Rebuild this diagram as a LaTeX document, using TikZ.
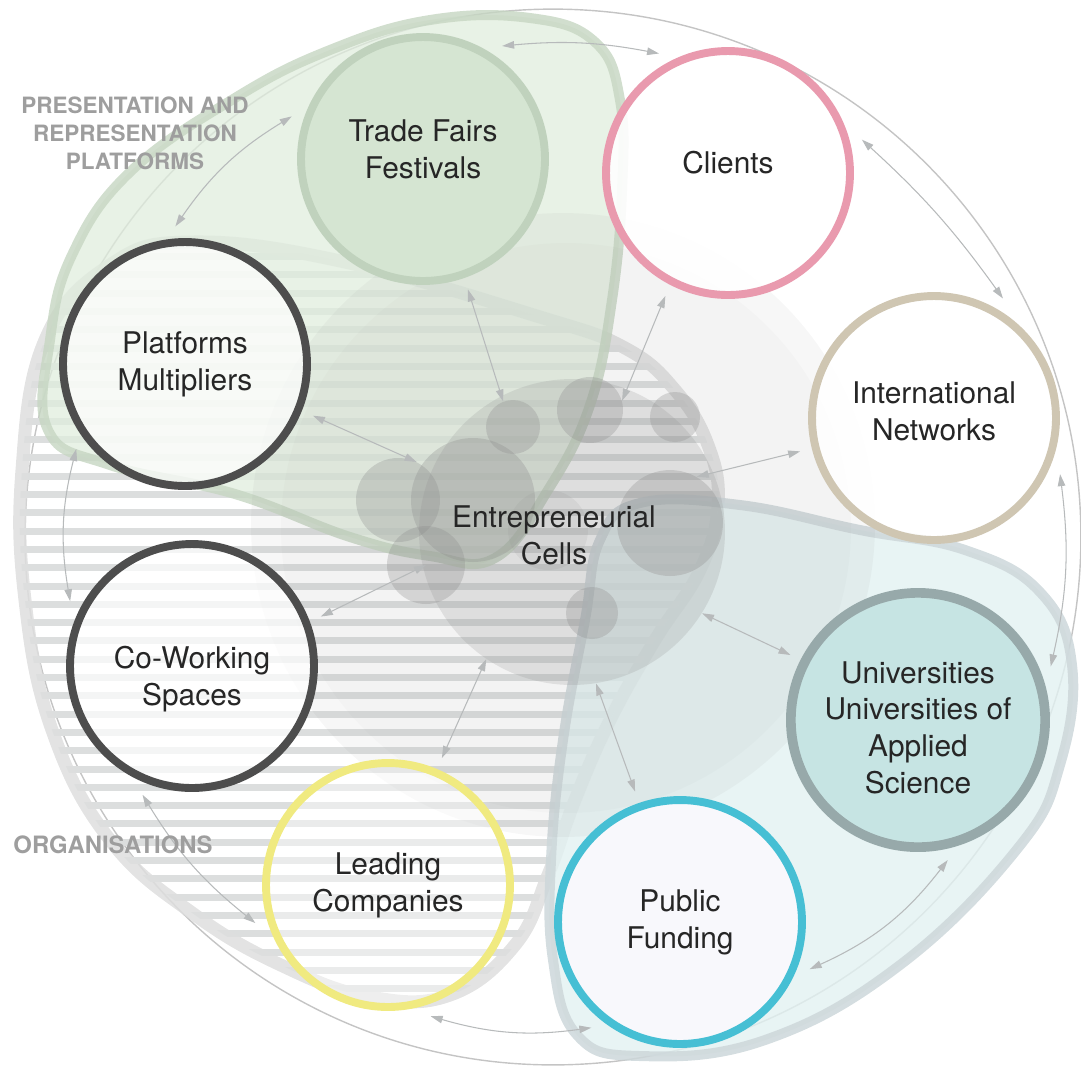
\documentclass[tikz,border=0pt]{standalone}
\usepackage{fontspec}
\setmainfont{TeX Gyre Heros}
\usepackage{tikz}
\usetikzlibrary{arrows.meta,shapes,positioning}
\usepackage{xcolor}
\definecolor{linkgray}{RGB}{183,186,187}
\definecolor{ringgray}{RGB}{196,196,196}
\definecolor{orgband}{RGB}{222,222,222}
\definecolor{stripegray}{RGB}{220,222,222}
\definecolor{presgreen}{RGB}{224,237,221}
\definecolor{presband}{RGB}{198,214,194}
\definecolor{tealfill}{RGB}{226,241,241}
\definecolor{tealband}{RGB}{205,215,218}
\definecolor{tradefill}{RGB}{213,229,210}
\definecolor{tradedraw}{RGB}{192,210,189}
\definecolor{clientpink}{RGB}{233,154,174}
\definecolor{intlbeige}{RGB}{207,198,178}
\definecolor{unifill}{RGB}{198,228,227}
\definecolor{unidraw}{RGB}{151,169,170}
\definecolor{pubcyan}{RGB}{70,191,212}
\definecolor{pubfill}{RGB}{248,248,252}
\definecolor{leadyellow}{RGB}{240,234,128}
\definecolor{darkring}{RGB}{77,77,77}
\definecolor{labelgray}{RGB}{158,158,158}
\definecolor{cellgray}{RGB}{140,140,140}
\tikzstyle{actor} = [circle, minimum size=4.88cm, line width=4.5pt, outer sep=0.32cm, align=center, text=black!85, text opacity=1, font=\fontsize{17}{21}\selectfont]
\tikzstyle{link} = [line width=0.6pt, <->, >={Triangle[length=0.24cm,width=0.15cm]}, color=linkgray]
\tikzstyle{cell} = [circle, inner sep=0pt, fill=cellgray, fill opacity=0.3]
\tikzstyle{grouplabel} = [align=center, text=labelgray, font=\bfseries\fontsize{12.8}{16}\selectfont]
% move the lines of a node text up or down without changing the node
\newcommand{\nudge}[2]{\raisebox{#1}[\height][\depth]{\begin{tabular}{@{}c@{}}#2\end{tabular}}}
\newcommand{\greenshape}{plot[smooth cycle, tension=0.7] coordinates {(48,430) (50,340) (72,255) (130,172) (235,98) (330,50) (430,20) (530,18) (595,42) (620,100) (622,190) (612,300) (590,405) (548,490) (495,558) (430,556) (350,537) (235,494) (110,465)}}
\newcommand{\orgshape}{plot[smooth cycle, tension=0.7] coordinates {(22,470) (45,340) (110,265) (193,242) (345,262) (540,317) (625,348) (675,390) (708,445) (718,505) (700,570) (655,640) (610,720) (575,800) (548,875) (515,945) (450,995) (370,997) (285,967) (195,915) (110,840) (52,730) (25,600)}}
\newcommand{\tealshape}{plot[smooth cycle, tension=0.7] coordinates {(640,503) (740,505) (860,530) (965,550) (1040,592) (1072,665) (1060,765) (1018,848) (900,965) (765,1040) (640,1056) (577,1035) (553,960) (551,860) (563,740) (585,620) (600,540)}}

\begin{document}
\begin{tikzpicture}[x=0.02cm, y=-0.02cm]
\useasboundingbox (0,0) rectangle (1081,1066);
% outer ring
\draw[ringgray, line width=0.8pt] (553,537) circle[radius=10.56cm];

% organisations
\begin{scope}
\clip \orgshape;
\foreach \s in {256.6,274.9,...,1010} \draw[stripegray, line width=0.14cm] (0,\s) -- (1081,\s);
\end{scope}
\draw[orgband, line width=0.26cm, draw opacity=0.85] \orgshape;

% presentation platforms
\fill[presgreen, fill opacity=0.75] \greenshape;
\draw[presband, line width=0.2cm, draw opacity=0.8] \greenshape;

% universities and funding
\fill[tealfill, fill opacity=0.8] \tealshape;
\draw[tealband, line width=0.2cm, draw opacity=0.85] \tealshape;

% centre
\fill[cellgray, fill opacity=0.07] (563,525) circle[radius=6.24cm];
\fill[cellgray, fill opacity=0.04] (566,528) circle[radius=5.7cm];
\node[circle, inner sep=0pt, minimum size=6.12cm, fill=cellgray, fill opacity=0.2] (core) at (572,532) {};
\node[cell, minimum size=1.08cm] (cellA) at (513,427) {};
\node[cell, minimum size=1.32cm] (cellB) at (590,410) {};
\node[cell, minimum size=1.0cm] (cellC) at (675,417) {};
\node[cell, minimum size=2.48cm] (cellD) at (473,500) {};
\node[cell, minimum size=1.68cm] (cellE) at (398,500) {};
\node[cell, minimum size=1.56cm] (cellF) at (426,565) {};
\node[cell, minimum size=1.6cm, fill opacity=0.12] (cellG) at (548,530) {};
\node[cell, minimum size=2.12cm] (cellH) at (670,523) {};
\node[cell, minimum size=1.04cm] (cellI) at (592,613) {};

% actors
\node[actor, draw=tradedraw, fill=tradefill] (trade) at (423,159) {\nudge{0.12cm}{Trade Fairs\\Festivals}};
\node[actor, draw=clientpink, fill=white, fill opacity=0.9] (clients) at (728,173) {\nudge{0.14cm}{Clients}};
\node[actor, draw=intlbeige, fill=white, fill opacity=0.9] (intl) at (934,418) {\nudge{0.07cm}{International\\Networks}};
\node[actor, draw=unidraw, fill=unifill, line width=5.5pt] (univ) at (918,720) {\nudge{-0.22cm}{Universities\\Universities of\\Applied\\Science}};
\node[actor, draw=pubcyan, fill=pubfill] (public) at (680,922) {Public\\Funding};
\node[actor, draw=leadyellow, fill=white, fill opacity=0.4] (leading) at (388,885) {Leading\\Companies};
\node[actor, draw=darkring, fill=white, fill opacity=0.7] (cowork) at (192,666) {\nudge{-0.28cm}{Co-Working\\Spaces}};
\node[actor, draw=darkring, fill=white, fill opacity=0.7] (platf) at (185,364) {Platforms\\Multipliers};

% links round the ring
\draw[link] (trade.55) to[bend left=8] (clients.120);
\draw[link] (clients.14) to[bend left=6] (intl.60);
\draw[link] (intl.-24) to[bend left=10] (univ.22);
\draw[link] (univ.-78) to[bend left=14] (public.-20);
\draw[link] (public.230) to[bend left=12] (leading.-72);
\draw[link] (leading.196) to[bend left=10] (cowork.249);
\draw[link] (cowork.152) to[bend left=12] (platf.218);
\draw[link] (platf.94) to[bend left=12] (trade.162);

% links to the cells
\draw[link] (trade.-71) -- (cellA.111);
\draw[link] (clients.243) -- (cellB.16);
\draw[link] (intl.194) -- (cellH.60);
\draw[link] (univ.153) -- (core.-32);
\draw[link] (public.109) -- (core.-81);
\draw[link] (leading.67) -- (core.236);
\draw[link] (cowork.21) -- (cellF.center);
\draw[link] (platf.-22) -- (cellE.64);

% labels
\node[align=center, text=black!85, font=\fontsize{17}{21}\selectfont] (cellslabel) at (554,535) {Entrepreneurial\\Cells};
\node[grouplabel] (preslabel) at (135,133) {PRESENTATION AND\\REPRESENTATION\\PLATFORMS};
\node[grouplabel, font=\bfseries\fontsize{13.6}{16}\selectfont] (orglabel) at (113,845) {ORGANISATIONS};
\end{tikzpicture}
\end{document}
